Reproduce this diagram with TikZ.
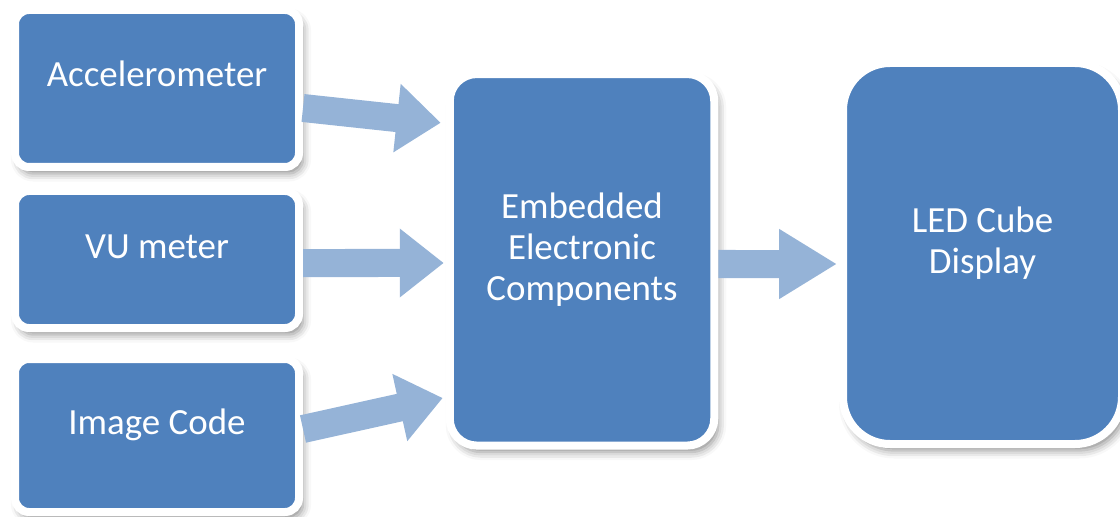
\documentclass[tikz,border=0pt]{standalone}
\usepackage{fontspec}
\setmainfont{Carlito}
\usetikzlibrary{arrows.meta,shadows.blur}
\definecolor{boxblue}{HTML}{4F81BD}
\definecolor{arrowblue}{HTML}{95B3D7}
\begin{document}
\begin{tikzpicture}[
  box/.style={draw=white, fill=boxblue, line width=0.16cm,
    blur shadow={shadow xshift=0.08cm, shadow yshift=-0.13cm, shadow blur radius=0.16cm, shadow opacity=45}},
  boxtext/.style={text=white, align=center, font=\fontsize{21}{23.3}\selectfont},
  flow/.style={draw=arrowblue, line width=0.56cm, -{Triangle[length=0.88cm, width=1.32cm]}}
]
\useasboundingbox (0,0) rectangle (22.4,-10.34);
% input blocks
\node [box, rounded corners=0.28cm, minimum width=5.68cm, minimum height=3.14cm] (acc) at (3.14,-1.77) {};
\node [box, rounded corners=0.28cm, minimum width=5.68cm, minimum height=2.74cm] (vu) at (3.14,-5.19) {};
\node [box, rounded corners=0.28cm, minimum width=5.68cm, minimum height=3.06cm] (img) at (3.14,-8.71) {};
% processing and output
\node [box, rounded corners=0.54cm, minimum width=5.29cm, minimum height=7.43cm] (emb) at (11.64,-5.196) {};
\node [box, rounded corners=0.94cm, minimum width=5.58cm, minimum height=7.62cm] (led) at (19.65,-5.07) {};
% labels
\node [boxtext, anchor=base] (acctext) at ([yshift=0.03cm]acc.center) {Accelerometer};
\node [boxtext, anchor=base] (vutext) at ([yshift=0.03cm]vu.center) {VU meter};
\node [boxtext, anchor=base] (imgtext) at ([yshift=0.03cm]img.center) {Image Code};
\node [boxtext] (embtext) at ([yshift=0.21cm]emb.center) {Embedded\\Electronic\\Components};
\node [boxtext] (ledtext) at ([yshift=0.21cm]led.center) {LED Cube\\Display};
% block arrows
\draw [flow] ([yshift=-0.39cm]acc.east) -- ([xshift=-0.1cm,yshift=2.74cm]emb.west);
\draw [flow] ([yshift=-0.07cm]vu.east) -- ([xshift=-0.04cm,yshift=-0.064cm]emb.west);
\draw [flow] ([yshift=0.13cm]img.east) -- ([xshift=-0.06cm,yshift=-2.764cm]emb.west);
\draw [flow, -{Triangle[length=1.16cm, width=1.32cm]}] ([yshift=-0.084cm]emb.east) -- ([xshift=-0.04cm,yshift=-0.21cm]led.west);
\end{tikzpicture}
\end{document}
